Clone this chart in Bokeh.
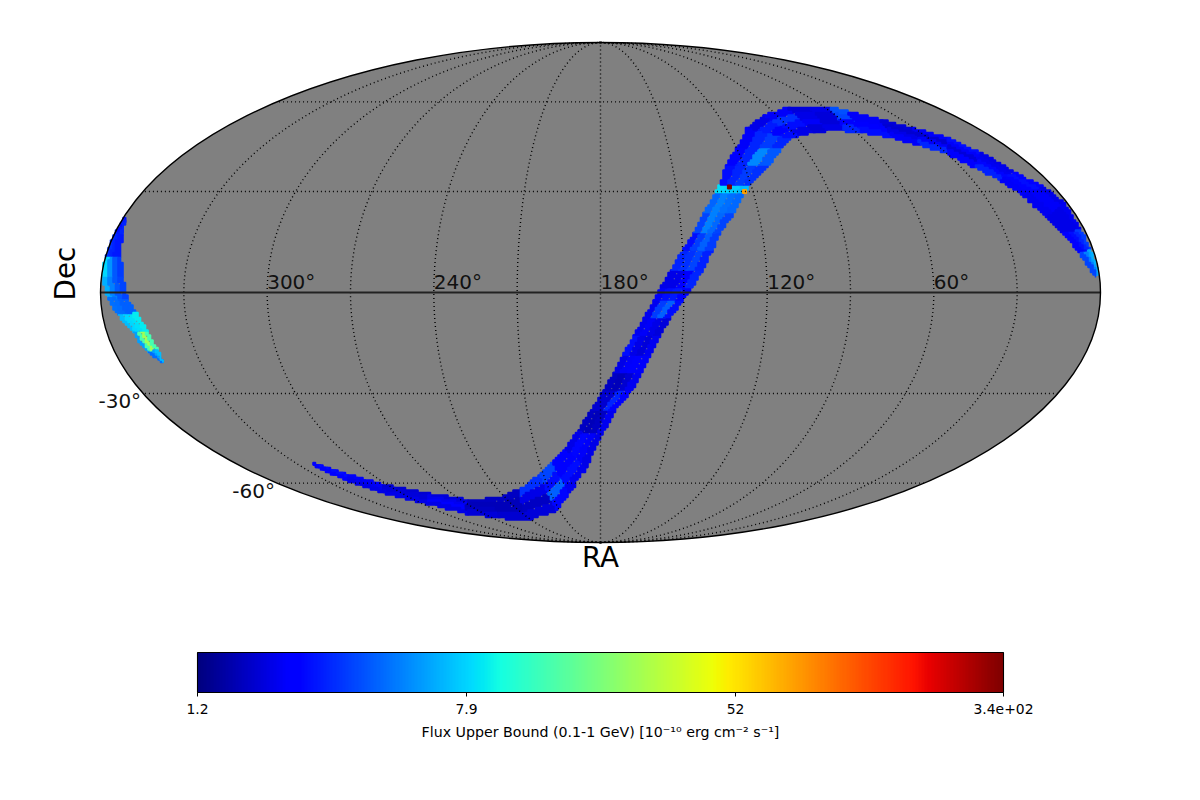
import numpy as np
from bokeh.plotting import figure
from bokeh.models import ColumnDataSource, LogColorMapper, ColorBar, FixedTicker, Range1d, Label
from bokeh.core.properties import value
from bokeh.embed import file_html
from bokeh.resources import INLINE

# --- colour scale ---
flux_low = 1.2
flux_high = 340.0
bar_ticks = [1.2, 7.9, 52.0, 340.0]
bar_tick_labels = ["1.2", "7.9", "52", "3.4e+02"]
bar_title = "Flux Upper Bound (0.1-1 GeV) [10\u207b\u00b9\u2070 erg cm\u207b\u00b2 s\u207b\u00b9]"

# --- graticule ---
ra_grid = [30, 60, 90, 120, 150, 180, 210, 240, 270, 300, 330]
dec_grid = [-60, -30, 30, 60]
ra_labels = [300, 240, 180, 120, 60]
dec_labels = [-30, -60]

# --- main band: edge stations (deg) ---
upper_ra = [321.6,312.8,302.0,284.7,265.4,244.8,226.4,211.3,203.6,196.1,189.9,184.1,178.8,175.1,171.8,167.9,164.4,160.9,158.4,154.7,150.1,145.5,141.3,134.4,132.6,127.8,119.5,109.6,96.9,79.9,67.6,56.9,51.1,40.4,30.7,21.4,15.4,10.5,4.3,1.6,1.6,1.1,0.5]
upper_dec = [-52.9,-56.9,-60.6,-64.0,-66.6,-65.7,-62.1,-56.5,-52.6,-47.4,-41.8,-35.3,-29.1,-23.6,-18.5,-12.6,-7.3,-2.3,1.5,6.4,12.3,17.3,23.3,30.0,31.9,38.2,44.1,50.9,55.0,58.0,58.0,58.0,56.5,53.6,50.5,47.1,42.1,35.9,31.3,26.3,18.2,12.3,5.8]
lower_ra = [322.4,318.2,310.2,296.1,282.4,264.2,240.2,211.6,198.2,186.6,178.7,173.9,167.5,164.4,161.4,158.1,154.7,150.1,146.9,143.1,139.1,135.5,129.5,122.9,120.6,109.8,99.1,92.3,87.5,79.3,73.2,64.7,57.3,46.1,37.6,29.7,24.1,18.9,14.8,11.3,8.5,5.1,1.5]
lower_dec = [-53.2,-59.1,-63.6,-68.3,-72.6,-74.8,-75.3,-71.3,-64.0,-54.3,-42.4,-35.3,-29.1,-23.6,-18.5,-12.6,-7.3,-2.3,1.5,6.4,12.3,17.3,23.3,30.0,31.9,38.2,44.1,47.1,48.1,49.1,49.5,49.5,49.1,47.1,44.7,42.1,37.5,33.4,28.8,22.1,17.3,11.4,4.4]

# flux per segment, four columns across the band
flux_a = [2.4,2.2,1.8,1.9,1.7,1.7,3.2,3.6,2.4,2.0,1.7,1.8,1.7,2.0,2.6,2.1,2.1,2.2,2.0,3.0,2.6,3.6,4.3,8.5,2.6,2.4,2.2,2.0,2.2,1.9,2.0,3.8,2.2,1.9,2.2,2.6,2.0,2.4,2.0,2.1,3.4,6.5]
flux_b = [2.6,2.2,1.9,2.1,1.6,1.6,2.0,2.6,2.3,2.5,1.6,1.8,1.6,2.2,2.0,2.2,3.4,2.6,2.0,3.2,3.4,5.0,5.0,8.0,3.0,3.0,3.0,2.8,3.2,2.0,1.9,3.6,2.2,1.8,1.8,2.2,2.1,2.6,2.2,2.0,3.0,6.0]
flux_c = [2.6,2.1,1.9,2.3,1.7,1.6,1.7,4.2,2.6,2.2,1.7,3.0,1.8,2.4,1.9,2.0,4.2,2.8,2.4,3.6,4.2,4.4,4.6,7.5,3.4,5.2,3.4,2.4,2.6,2.2,1.9,2.4,2.4,2.0,2.2,1.9,2.5,2.4,2.2,2.0,2.6,5.0]
flux_d = [2.3,2.0,2.0,2.0,1.9,1.8,1.9,2.5,2.1,2.0,2.1,2.4,2.1,2.2,2.1,1.9,2.6,2.4,3.0,2.9,3.4,3.6,4.4,7.0,3.2,4.0,3.0,2.6,2.0,1.9,2.0,3.0,2.6,2.2,3.0,2.4,2.9,2.2,2.1,2.0,2.4,3.6]

# --- wrapped piece at RA near 360 ---
wrap_outer_ra = [359.3,359.8,359.8,359.8,357.5,354.3,350.4,348.0,343.9]
wrap_outer_dec = [22.1,17.3,10.2,4.4,-1.5,-6.7,-12.0,-17.6,-20.6]
wrap_inner_ra = [358.6,356.7,354.1,352.0,349.9,347.3,344.8,343.6,343.9]
wrap_inner_dec = [21.2,16.7,10.2,4.4,-2.3,-6.1,-11.7,-17.0,-20.6]
wrap_a = [2.8,3.2,8.0,6.5,4.6,7.0,6.0,4.5]
wrap_b = [2.6,3.0,5.5,5.0,4.5,8.0,14.0,4.5]
wrap_c = [2.8,2.8,4.0,4.0,4.2,8.5,26.0,6.0]
wrap_d = [3.0,2.8,3.4,3.6,4.2,9.0,14.0,7.0]

# --- isolated hot pixels ---
hot_ra = [128.8, 123.3]
hot_dec = [31.4, 30.0]
hot_flux = [340.0, 80.0]


def jet(n=256):
    t = np.linspace(0, 1, n)
    r = np.interp(t, [0, .35, .66, .89, 1], [0, 0, 1, 1, .5])
    g = np.interp(t, [0, .125, .375, .64, .91, 1], [0, 0, 1, 1, 0, 0])
    b = np.interp(t, [0, .11, .34, .65, 1], [.5, 1, 1, 0, 0])
    return ["#%02x%02x%02x" % (int(a * 255), int(c * 255), int(d * 255)) for a, c, d in zip(r, g, b)]


def mollweide(ra, dec):
    ra = np.asarray(ra, dtype=float)
    phi = np.radians(np.asarray(dec, dtype=float))
    theta = phi.copy()
    for _ in range(60):
        d = 2 + 2 * np.cos(2 * theta)
        d = np.where(np.abs(d) < 1e-9, 1e-9, d)
        theta = theta - (2 * theta + np.sin(2 * theta) - np.pi * np.sin(phi)) / d
        theta = np.clip(theta, -np.pi / 2, np.pi / 2)
    theta = np.where(np.abs(phi) >= np.pi / 2 - 1e-9, np.sign(phi) * np.pi / 2, theta)
    lam = np.radians(180.0 - ra)
    return 2 * np.sqrt(2) / np.pi * lam * np.cos(theta), np.sqrt(2) * np.sin(theta)


SCALE = 500 / (2 * np.sqrt(2))  # screen px per projection unit
STEP = 2.5 / SCALE              # raster step of the map's pixels


def stair(qra, qdec):
    """Outline of one map cell, snapped to the raster of the map's pixels."""
    ra = np.concatenate([np.linspace(qra[k], qra[(k + 1) % 4], 14, endpoint=False) for k in range(4)])
    dec = np.concatenate([np.linspace(qdec[k], qdec[(k + 1) % 4], 14, endpoint=False) for k in range(4)])
    x, y = mollweide(ra, dec)
    x = np.round(x / STEP) * STEP
    y = np.round(y / STEP) * STEP
    ox, oy = [x[0]], [y[0]]
    for a, b in zip(x[1:], y[1:]):
        if a != ox[-1] and b != oy[-1]:
            ox.append(a)
            oy.append(oy[-1])
        if a != ox[-1] or b != oy[-1]:
            ox.append(a)
            oy.append(b)
    return ox, oy


def band_cells(ra0, dec0, ra1, dec1, cols):
    xs, ys, fl = [], [], []
    ra0, dec0, ra1, dec1 = map(np.asarray, (ra0, dec0, ra1, dec1))
    n = len(cols)
    for i in range(len(ra0) - 1):
        for j in range(n):
            f0, f1 = j / n, (j + 1) / n
            qra = [ra0[i] + (ra1[i] - ra0[i]) * f0, ra0[i + 1] + (ra1[i + 1] - ra0[i + 1]) * f0,
                   ra0[i + 1] + (ra1[i + 1] - ra0[i + 1]) * f1, ra0[i] + (ra1[i] - ra0[i]) * f1]
            qdec = [dec0[i] + (dec1[i] - dec0[i]) * f0, dec0[i + 1] + (dec1[i + 1] - dec0[i + 1]) * f0,
                    dec0[i + 1] + (dec1[i + 1] - dec0[i + 1]) * f1, dec0[i] + (dec1[i] - dec0[i]) * f1]
            x, y = stair(qra, qdec)
            xs.append(x)
            ys.append(y)
            fl.append(cols[j][i])
    return xs, ys, fl


W, H = 1184, 784
p = figure(width=W, height=H, output_backend="svg", toolbar_location=None,
           x_range=Range1d(-600 / SCALE, 584 / SCALE),
           y_range=Range1d(-492 / SCALE, 292 / SCALE),
           x_axis_type=None, y_axis_type=None, min_border=0,
           outline_line_color=None, background_fill_color="white", border_fill_color="white")
p.grid.visible = False

mapper = LogColorMapper(palette=jet(), low=flux_low, high=flux_high)
colour = {"field": "flux", "transform": mapper}

# sky disc
p.ellipse(x=[0], y=[0], width=[4 * np.sqrt(2)], height=[2 * np.sqrt(2)],
          fill_color="#808080", line_color=None)

# band cells
xs, ys, fl = band_cells(upper_ra, upper_dec, lower_ra, lower_dec, [flux_a, flux_b, flux_c, flux_d])
x2, y2, f2 = band_cells(wrap_outer_ra, wrap_outer_dec, wrap_inner_ra, wrap_inner_dec,
                        [wrap_a, wrap_b, wrap_c, wrap_d])
src = ColumnDataSource(dict(xs=xs + x2, ys=ys + y2, flux=fl + f2))
p.patches("xs", "ys", source=src, fill_color=colour, line_color=colour, line_width=1.6)

hx, hy = mollweide(hot_ra, hot_dec)
p.scatter(hx, hy, size=4, marker="square",
          color=[jet()[int(255 * np.log(f / flux_low) / np.log(flux_high / flux_low))] for f in hot_flux])

# graticule
dash = "1 3"
for ra in ra_grid:
    d = np.linspace(-90, 90, 181)
    gx, gy = mollweide(np.full_like(d, ra), d)
    p.line(gx, gy, line_color="black", line_width=1.4, line_dash=dash)
for dc in dec_grid:
    r = np.linspace(0, 360, 3)
    gx, gy = mollweide(r, np.full_like(r, dc))
    p.line(gx, gy, line_color="black", line_width=1.4, line_dash=dash)
r = np.linspace(0, 360, 3)
gx, gy = mollweide(r, np.zeros_like(r))
p.line(gx, gy, line_color="#222222", line_width=2)

# outline
p.ellipse(x=[0], y=[0], width=[4 * np.sqrt(2)], height=[2 * np.sqrt(2)],
          fill_color=None, line_color="black", line_width=1.4)

font = value("DejaVu Sans")
lx, ly = mollweide(ra_labels, [0] * len(ra_labels))
p.text(lx, ly, text=[f"{v}\u00b0" for v in ra_labels], text_font=font, text_font_size="20px",
       text_align="left", text_baseline="alphabetic", y_offset=-11, text_color="#111111")
bx, by = mollweide([360] * len(dec_labels), dec_labels)
p.text(bx, by, text=[f"{v}\u00b0" for v in dec_labels], text_font=font, text_font_size="20px",
       text_align="right", text_baseline="top", x_offset=-2, y_offset=-4, text_color="#111111")

# axis names
p.add_layout(Label(x=65, y=H - 273, x_units="screen", y_units="screen", text="Dec",
                   text_font="DejaVu Sans", text_font_size="27.8px", angle=90, angle_units="deg",
                   text_align="center", text_baseline="middle", text_color="black"))
p.add_layout(Label(x=600, y=H - 557, x_units="screen", y_units="screen", text="RA",
                   text_font="DejaVu Sans", text_font_size="27.8px",
                   text_align="center", text_baseline="middle", text_color="black"))

# colour bar
bar = ColorBar(color_mapper=mapper, orientation="horizontal", location=(197, 68),
               width=806, height=40, padding=0, margin=0,
               ticker=FixedTicker(ticks=bar_ticks),
               major_label_overrides=dict(zip(bar_ticks, bar_tick_labels)),
               major_label_text_font="DejaVu Sans", major_label_text_font_size="13.9px",
               major_label_text_color="black", label_standoff=7,
               major_tick_in=0, major_tick_out=4, major_tick_line_color="black",
               minor_tick_line_color=None, bar_line_color="black", bar_line_width=1.1,
               background_fill_color=None, border_line_color=None)
p.add_layout(bar, "center")
p.add_layout(Label(x=600, y=H - 731, x_units="screen", y_units="screen", text=bar_title,
                   text_font="DejaVu Sans", text_font_size="14.2px",
                   text_align="center", text_baseline="middle", text_color="black"))

open("out.html", "w").write(file_html(p, INLINE))
